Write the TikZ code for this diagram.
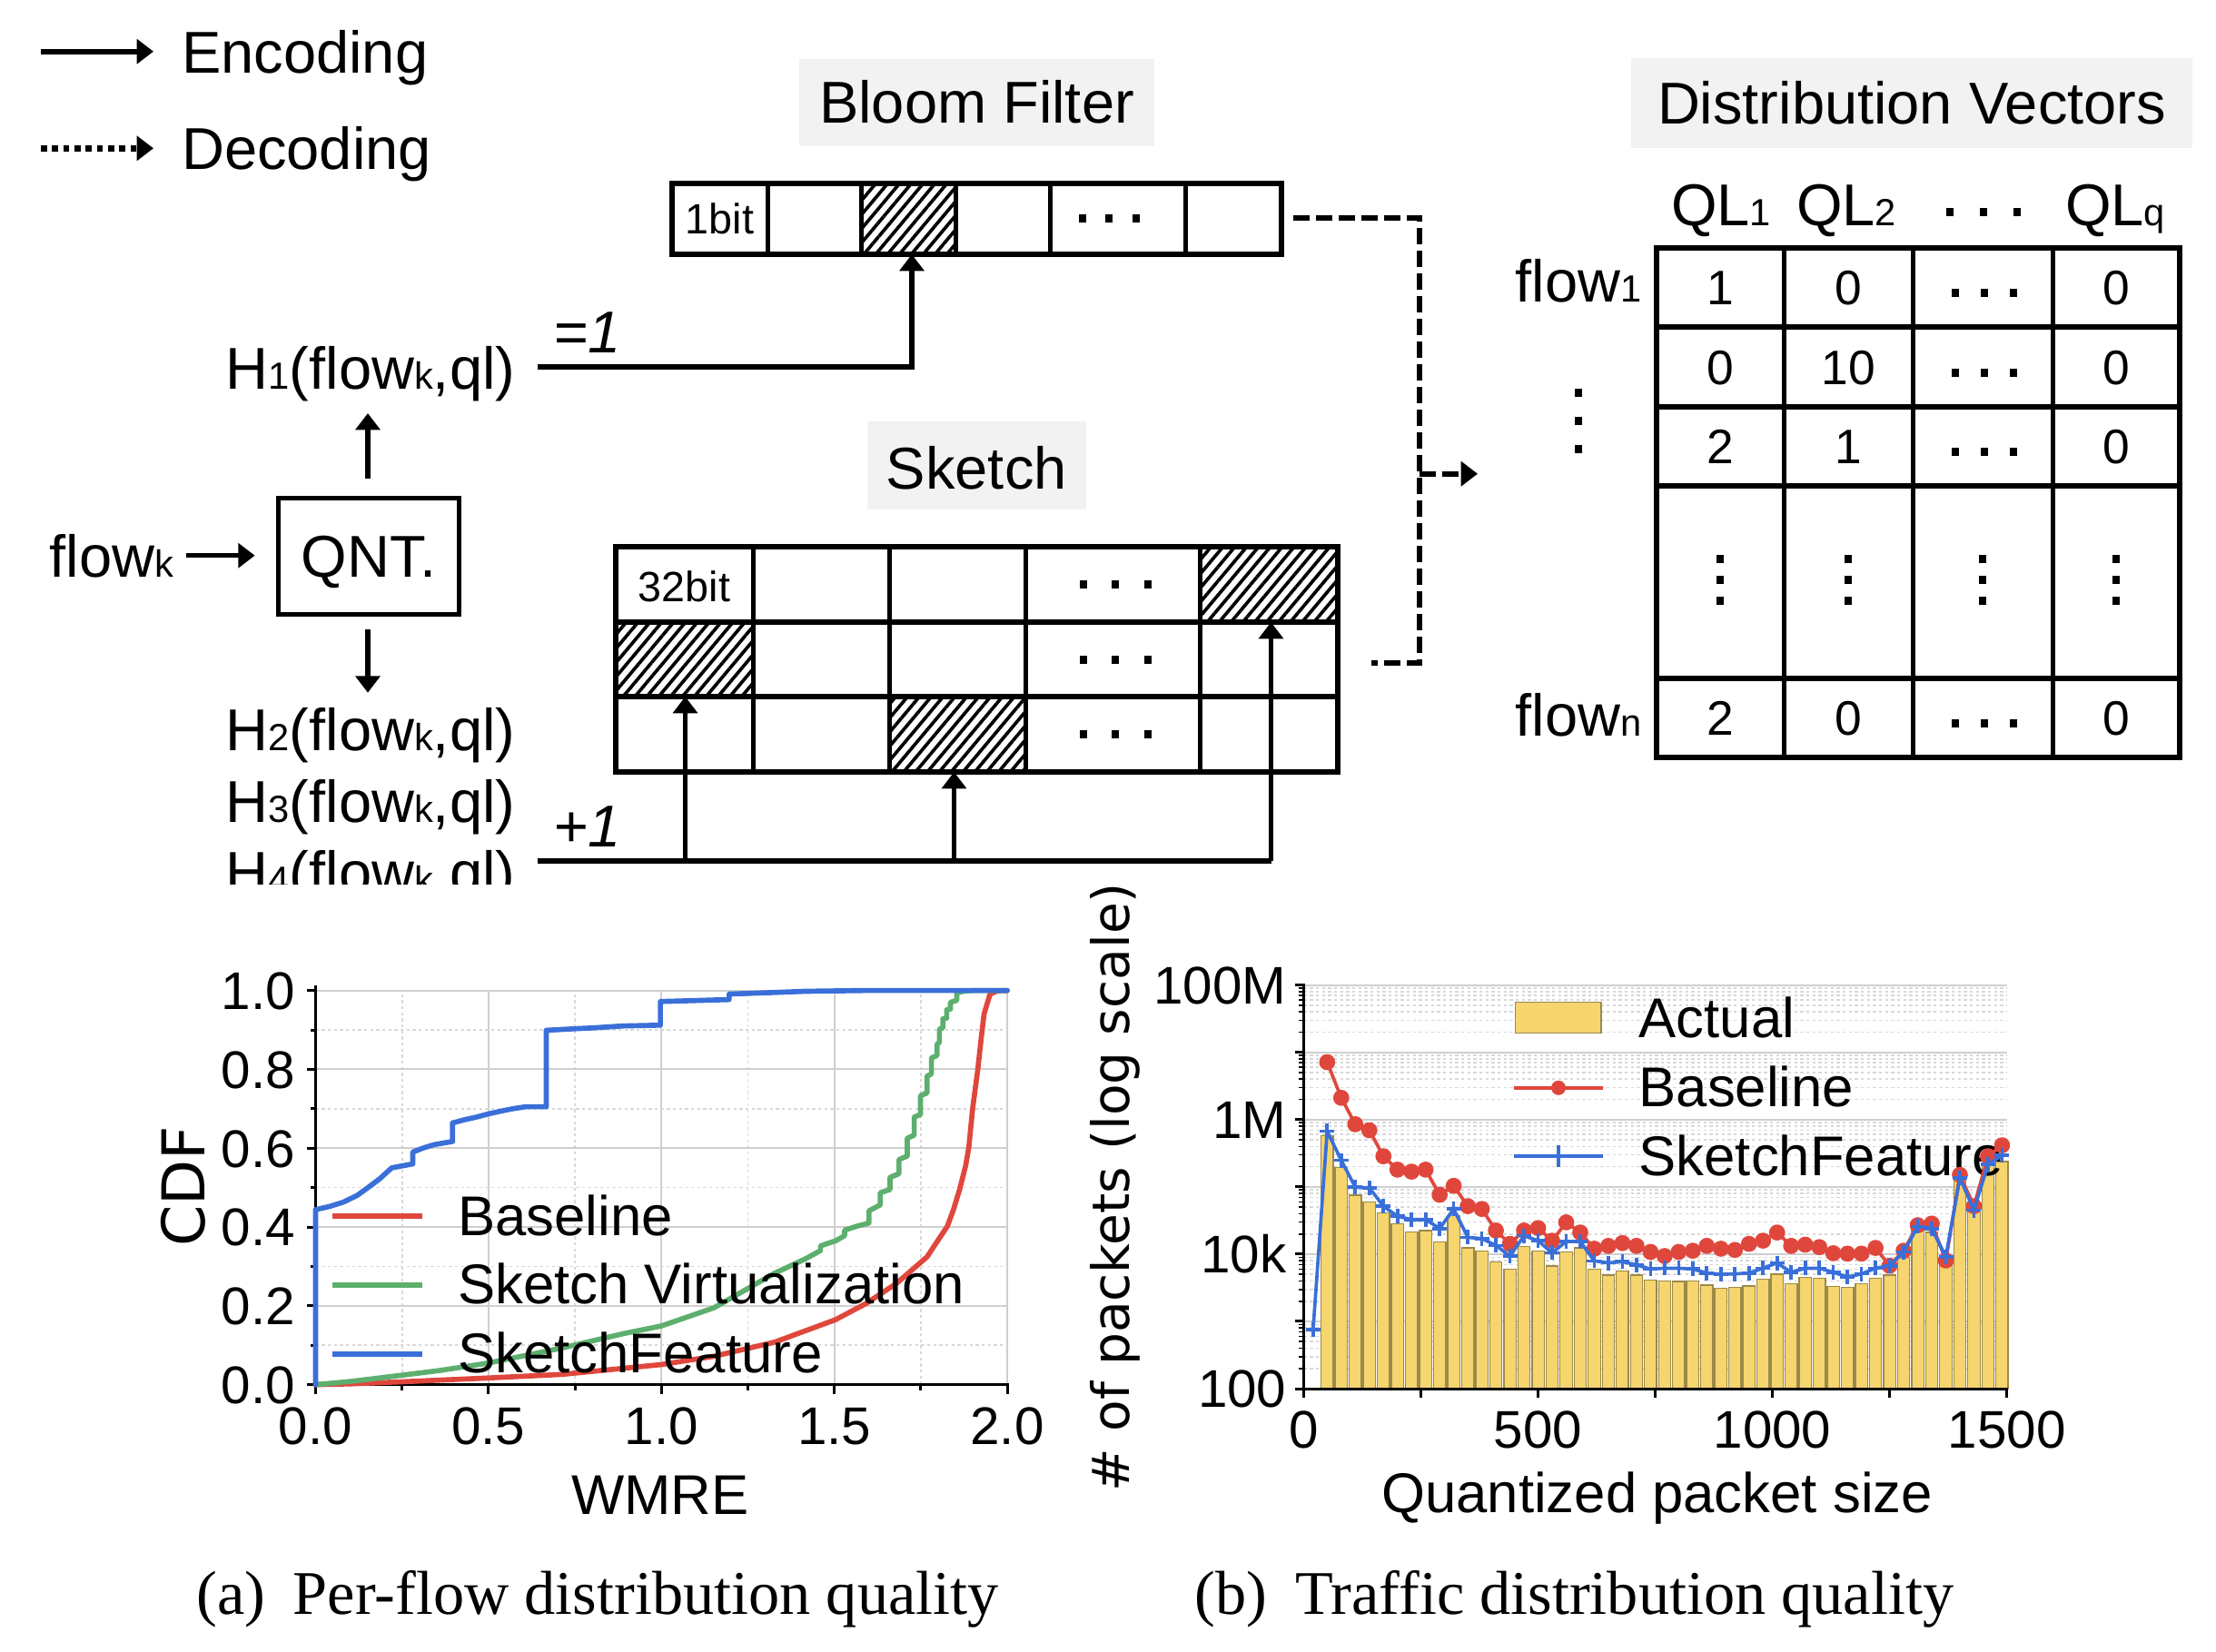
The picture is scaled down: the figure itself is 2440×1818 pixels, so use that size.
\documentclass[tikz,border=0pt]{standalone}
\usepackage{fontspec}
\setmainfont{Liberation Sans}
\newfontfamily\capfont{Liberation Serif}
\newfontfamily\labfont{DejaVu Sans}
\usetikzlibrary{arrows.meta,patterns.meta}
\definecolor{boxgray}{HTML}{F2F2F2}
\definecolor{cred}{HTML}{E0473C}
\definecolor{cblue}{HTML}{3A6FD9}
\definecolor{cgreen}{HTML}{5DAF6E}
\definecolor{cbar}{HTML}{F6D46E}
\definecolor{cbaredge}{HTML}{9C8A4A}
\definecolor{gridc}{HTML}{CFCFCF}
\definecolor{gridd}{HTML}{D8D8D8}
\newcommand\fbig{\fontsize{19.5pt}{23pt}\selectfont}
\newcommand\fsub{\fontsize{12.5pt}{14pt}\selectfont}
\newcommand\fcell{\fontsize{16pt}{19pt}\selectfont}
\newcommand\fsmall{\fontsize{14pt}{16pt}\selectfont}
\newcommand\fplot{\fontsize{17.5pt}{21pt}\selectfont}
\newcommand\fleg{\fontsize{18.5pt}{22pt}\selectfont}
\newcommand\fylab{\labfont\fontsize{17pt}{20pt}\selectfont}
\newcommand\fcdf{\labfont\fontsize{19.5pt}{22pt}\selectfont}
\newcommand\fcap{\capfont\fontsize{20.5pt}{24pt}\selectfont}
\newcommand\lsub[1]{{\fsub #1}}
\newcommand\sqdot[2]{\fill (#1-4,#2-4.5) rectangle (#1+4,#2+4.5);}
\newcommand\hdots[3]{\sqdot{#1-#3}{#2}\sqdot{#1}{#2}\sqdot{#1+#3}{#2}}
\newcommand\vdotsq[3]{\sqdot{#1}{#2-#3}\sqdot{#1}{#2}\sqdot{#1}{#2+#3}}
\tikzset{
  >={Triangle[length=5.5pt,width=8pt]},
  txt/.style={inner sep=0pt, anchor=base},
  txtw/.style={inner sep=0pt, anchor=base west},
  txte/.style={inner sep=0pt, anchor=base east},
  enc/.style={line width=1.6pt, ->},
  legenc/.style={line width=1.9pt, ->},
  declink/.style={line width=1.7pt, dash pattern=on 5.5pt off 2pt},
  legdot/.style={line width=2pt, dash pattern=on 2pt off 1.7pt, ->},
  cellthin/.style={line width=1.5pt},
  cellthick/.style={line width=1.8pt},
  hatch/.style={pattern={Lines[angle=50,distance=3pt,line width=1.1pt]}},
  labelbox/.style={fill=boxgray},
  gsolid/.style={draw=gridc, line width=0.6pt},
  gdot/.style={draw=gridd, line width=0.5pt, dash pattern=on 1pt off 1pt},
  axisl/.style={line width=0.9pt},
  bar/.style={fill=cbar, draw=cbaredge, line width=0.4pt},
  curve/.style={line width=1.7pt, line join=round, line cap=round},
  legline/.style={line width=1.8pt},
}
\begin{document}
\begin{tikzpicture}[x=0.3pt,y=-0.3pt]
\useasboundingbox (0,0) rectangle (2440,1818);

% ---------------- legend ----------------
\node[txtw,font=\fbig] (encl) at (199.6,80) {Encoding};
\node[txtw,font=\fbig] (decl) at (199.6,186.7) {Decoding};
\coordinate (e0) at (45,56.7); \coordinate (e1) at (169,56.7);
\coordinate (d0) at (45,163.3); \coordinate (d1) at (169,163.3);
\draw[legenc] (e0) -- (e1);
\draw[legdot] (d0) -- (d1);

% ---------------- Bloom filter ----------------
\fill[labelbox] (880,65) rectangle (1271,161);
\node[txt,font=\fbig] (bflab) at (1075.5,135) {Bloom Filter};
\fill[hatch] (948,201.7) rectangle (1052,280);
\foreach \xx in {845,948,1052,1156,1305} \draw[cellthin] (\xx,201.7) -- (\xx,280);
\draw[cellthick] (740,201.7) rectangle (1410.5,280);
\node[txt,font=\fsmall] (bit1) at (792.5,257.5) {1bit};
\hdots{1221}{240}{29.5}
\coordinate (bfhat) at (1004,280);
\coordinate (bfout) at (1424,240);

% ---------------- Distribution vectors ----------------
\fill[labelbox] (1796,64) rectangle (2414,162.7);
\node[txt,font=\fbig] (dvlab) at (2105,136.7) {Distribution Vectors};
\node[txt,font=\fbig] (ql1) at (1895,248) {QL\lsub{1}};
\node[txt,font=\fbig] (ql2) at (2033,248) {QL\lsub{2}};
\node[txt,font=\fbig] (qlq) at (2329,248) {QL\lsub{q}};
\hdots{2184}{233.5}{37}
\foreach \yy in {360,448.3,535,746.7} \draw[cellthick] (1823.7,\yy) -- (2400,\yy);
\foreach \xx in {1964,2106.6,2260} \draw[cellthin] (\xx,272.7) -- (\xx,834);
\draw[cellthick] (1823.7,272.7) rectangle (2400,834);
\node[txte,font=\fbig] (flow1) at (1808,332) {flow\lsub{1}};
\node[txte,font=\fbig] (flown) at (1808,810) {flow\lsub{n}};
\vdotsq{1738}{463}{31}
% row 1
\node[txt,font=\fcell] (v11) at (1894,335) {1};
\node[txt,font=\fcell] (v12) at (2035,335) {0};
\hdots{2185}{322}{32}
\node[txt,font=\fcell] (v14) at (2330,335) {0};
% row 2
\node[txt,font=\fcell] (v21) at (1894,423) {0};
\node[txt,font=\fcell] (v22) at (2035,423) {10};
\hdots{2185}{410}{32}
\node[txt,font=\fcell] (v24) at (2330,423) {0};
% row 3
\node[txt,font=\fcell] (v31) at (1894,510.5) {2};
\node[txt,font=\fcell] (v32) at (2035,510.5) {1};
\hdots{2185}{497.5}{32}
\node[txt,font=\fcell] (v34) at (2330,510.5) {0};
% row 4
\vdotsq{1894}{638}{23}
\vdotsq{2035}{638}{23}
\vdotsq{2183}{638}{23}
\vdotsq{2330}{638}{23}
% row 5
\node[txt,font=\fcell] (v51) at (1894,809) {2};
\node[txt,font=\fcell] (v52) at (2035,809) {0};
\hdots{2185}{796}{32}
\node[txt,font=\fcell] (v54) at (2330,809) {0};

% ---------------- Sketch ----------------
\fill[labelbox] (955,464) rectangle (1195.6,561);
\node[txt,font=\fbig] (sklab) at (1075.3,538) {Sketch};
\fill[hatch] (1321,602) rectangle (1473,685);
\fill[hatch] (678,685) rectangle (829,767);
\fill[hatch] (979,767) rectangle (1129,850);
\foreach \xx in {829,979,1129,1321} \draw[cellthin] (\xx,602) -- (\xx,850);
\foreach \yy in {685,767} \draw[cellthick] (678,\yy) -- (1473,\yy);
\draw[cellthick] (678,602) rectangle (1473,850);
\node[txt,font=\fsmall] (bit32) at (753.5,662.7) {32bit};
\hdots{1228}{643.5}{35.5}
\hdots{1228}{726}{35.5}
\hdots{1228}{808.5}{35.5}
\coordinate (skr1) at (1399.5,685);
\coordinate (skr2) at (754.5,767);
\coordinate (skr3) at (1050.5,850);
\coordinate (skout) at (1509.6,730);

% ---------------- decoding connectors ----------------
\coordinate (dvin) at (1627,521.7);
\coordinate (jtop) at (1563,240);
\coordinate (jbot) at (1563,730);
\coordinate (jmid) at (1563,521.7);
\draw[declink] (bfout) -- (jtop) -- (jbot) -- (skout);
\draw[declink,->] (jmid) -- (dvin);

% ---------------- encoding side ----------------
\node[draw,line width=1.5pt,minimum width=59.7pt,minimum height=38.5pt,
      text height=14pt,text depth=0pt,inner sep=0pt,font=\fbig] (qnt) at (406,612.4) {QNT.};
\node[txtw,font=\fbig] (flowk) at (54,635) {flow\lsub{k}};
\coordinate (fa0) at (205,611.7); \coordinate (fa1) at (280.6,611.7);
\draw[enc] (fa0) -- (fa1);
\coordinate (ua0) at (405,526.7); \coordinate (ua1) at (405,455);
\draw[enc] (ua0) -- (ua1);
\coordinate (da0) at (405,693); \coordinate (da1) at (405,762.7);
\draw[enc] (da0) -- (da1);

\node[txt,font=\fbig] (h1) at (408,428) {H\lsub{1}(flow\lsub{k},ql)};
\node[txt,font=\fbig] (h2) at (408,826.7) {H\lsub{2}(flow\lsub{k},ql)};
\node[txt,font=\fbig] (h3) at (408,905) {H\lsub{3}(flow\lsub{k},ql)};
\begin{scope}
  \clip (0,0) rectangle (2440,973);
  \node[txt,font=\fbig] (h4) at (408,983) {H\lsub{4}(flow\lsub{k},ql)};
\end{scope}

\node[txtw,font=\fbig\itshape] (eq1) at (609,388) {=1};
\node[txtw,font=\fbig\itshape] (pl1) at (609,932) {+1};

\coordinate (l1a) at (592,404); \coordinate (l1b) at (1004,404);
\draw[line width=1.7pt,->] (l1a) -- (l1b) -- (bfhat);
\coordinate (l2a) at (592,947.7); \coordinate (l2b) at (1399.5,947.7);
\coordinate (l2c) at (754.5,947.7); \coordinate (l2d) at (1050.5,947.7);
\draw[line width=1.7pt] (l2a) -- (l2b);
\draw[enc] (l2c) -- (skr2);
\draw[enc] (l2d) -- (skr3);
\draw[enc] (l2b) -- (skr1);

% ================= plot (a) =================
\begin{scope}[shift={(347.5,1524.6)},x=114.225pt,y=130.2pt]
  \foreach \v in {0.5,1,1.5,2} \draw[gsolid] (\v,0) -- (\v,1);
  \foreach \v in {0.25,0.75,1.25,1.75} \draw[gdot] (\v,0) -- (\v,1);
  \foreach \c in {0.2,0.4,0.6,0.8,1} \draw[gsolid] (0,\c) -- (2,\c);
  \foreach \c in {0.1,0.3,0.5,0.7,0.9} \draw[gdot] (0,\c) -- (2,\c);
  \draw[axisl] (0,1.013) -- (0,0) -- (2.005,0);
  \foreach \c in {0,0.2,0.4,0.6,0.8,1} \draw[axisl] (0,\c) -- ++(-3pt,0);
  \foreach \c in {0.1,0.3,0.5,0.7,0.9} \draw[axisl] (0,\c) -- ++(-1.8pt,0);
  \foreach \v in {0,0.5,1,1.5,2} \draw[axisl] (\v,0) -- ++(0,-3pt);
  \foreach \v in {0.25,0.75,1.25,1.75} \draw[axisl] (\v,0) -- ++(0,-1.8pt);
  \foreach \c/\t in {0/0.0,0.2/0.2,0.4/0.4,0.6/0.6,0.8/0.8,1/1.0}
    \node[txte,font=\fplot,xshift=-6.6pt,yshift=-6.27pt] at (0,\c) {\t};
  \foreach \v/\t in {0/0.0,0.5/0.5,1/1.0,1.5/1.5,2/2.0}
    \node[txt,font=\fplot,yshift=-19.9pt] at (\v,0) {\t};
  % curves
  \draw[curve,cred] (0,0) -- (0.1,0.002) -- (0.27,0.008) -- (0.5,0.017) -- (0.712,0.026) -- (1.0,0.051) -- (1.152,0.072) -- (1.328,0.108) -- (1.504,0.165) -- (1.592,0.206) -- (1.68,0.257) -- (1.768,0.324) -- (1.827,0.402) -- (1.845,0.445) -- (1.862,0.494) -- (1.880,0.556) -- (1.889,0.602) -- (1.9,0.7) -- (1.915,0.80) -- (1.925,0.88) -- (1.933,0.94) -- (1.95,0.99) -- (1.97,0.999) -- (2.0,1.0);
  \draw[curve,cgreen] (0,0) -- (0.1,0.008) -- (0.185,0.017) -- (0.36,0.036) -- (0.5,0.055) -- (0.712,0.093) -- (0.888,0.129) -- (1.0,0.149) -- (1.152,0.195) -- (1.328,0.283) -- (1.416,0.319) -- (1.46,0.34) -- (1.46,0.352) -- (1.504,0.365) -- (1.53,0.378) -- (1.53,0.392) -- (1.565,0.402) -- (1.6,0.41) -- (1.6,0.441) -- (1.633,0.456) -- (1.633,0.487) -- (1.661,0.495) -- (1.661,0.526) -- (1.687,0.535) -- (1.687,0.571) -- (1.711,0.58) -- (1.711,0.625) -- (1.731,0.633) -- (1.731,0.679) -- (1.749,0.685) -- (1.749,0.733) -- (1.768,0.74) -- (1.768,0.783) -- (1.781,0.788) -- (1.781,0.829) -- (1.797,0.835) -- (1.797,0.864) -- (1.804,0.868) -- (1.804,0.902) -- (1.814,0.905) -- (1.814,0.928) -- (1.825,0.93) -- (1.825,0.951) -- (1.836,0.953) -- (1.836,0.970) -- (1.854,0.975) -- (1.854,0.994) -- (1.88,0.999) -- (1.908,1.0) -- (2.0,1.0);
  \draw[curve,cblue] (0,0) -- (0,0.444) -- (0.04,0.452) -- (0.08,0.463) -- (0.12,0.48) -- (0.15,0.499) -- (0.185,0.522) -- (0.22,0.55) -- (0.25,0.555) -- (0.281,0.56) -- (0.281,0.59) -- (0.31,0.6) -- (0.343,0.609) -- (0.396,0.617) -- (0.396,0.664) -- (0.43,0.672) -- (0.466,0.679) -- (0.5,0.687) -- (0.536,0.694) -- (0.57,0.70) -- (0.607,0.705) -- (0.667,0.705) -- (0.667,0.899) -- (0.75,0.903) -- (0.8,0.905) -- (0.888,0.91) -- (0.997,0.912) -- (0.997,0.972) -- (1.196,0.977) -- (1.196,0.991) -- (1.328,0.995) -- (1.416,0.998) -- (1.59,1.0) -- (2.0,1.0);
\end{scope}
% legend (a)
\coordinate (la1) at (365.6,1339); \coordinate (la1e) at (464.7,1339);
\coordinate (la2) at (365.6,1415); \coordinate (la2e) at (464.7,1415);
\coordinate (la3) at (365.6,1491); \coordinate (la3e) at (464.7,1491);
\draw[legline,cred] (la1) -- (la1e);
\draw[legline,cgreen] (la2) -- (la2e);
\draw[legline,cblue] (la3) -- (la3e);
\node[txtw,font=\fleg] (lat1) at (503.6,1360.7) {Baseline};
\node[txtw,font=\fleg] (lat2) at (503.6,1435.3) {Sketch Virtualization};
\node[txtw,font=\fleg] (lat3) at (503.6,1511) {SketchFeature};
\node[rotate=90,inner sep=0pt,font=\fcdf] (cdf) at (202,1306) {CDF};
\node[txt,font=\fleg] (wmre) at (727,1667) {WMRE};

% ================= plot (b) =================
\begin{scope}[shift={(1435.5,1677.08)},x=0.154821pt,y=22.212pt]
  \foreach \d in {2,...,7} \foreach \k in {2,...,9} \draw[gdot] (0,{\d+log10(\k)}) -- (1500,{\d+log10(\k)});
  \foreach \d in {3,...,8} \draw[gsolid] (0,\d) -- (1500,\d);
  \foreach \h [count=\i from 0] in {5.758,5.287,4.877,4.774,4.612,4.455,4.334,4.352,4.183,4.575,4.093,4.051,3.888,3.779,4.111,4.051,3.822,4.033,4.093,3.779,3.689,3.749,3.689,3.616,3.604,3.592,3.598,3.538,3.496,3.502,3.526,3.628,3.701,3.562,3.653,3.641,3.520,3.508,3.556,3.641,3.689,3.948,4.352,4.322,3.912,5.106,4.624,5.317,5.378}
    \filldraw[bar] ({50+30*\i-13},2) rectangle ({50+30*\i+13},\h);
  \draw[axisl] (0,8.02) -- (0,2) -- (1502,2);
  \foreach \d in {2,...,8} \draw[axisl] (0,\d) -- ++(-3pt,0);
  \foreach \d in {2,...,7} \foreach \k in {2,...,9} \draw[line width=0.5pt] (0,{\d+log10(\k)}) -- ++(-1.6pt,0);
  \foreach \v in {0,250,...,1500} \draw[axisl] (\v,2) -- ++(0,-3pt);
  \foreach \d/\t in {2/100,4/10k,6/1M,8/100M}
    \node[txte,font=\fplot,xshift=-5.55pt,yshift=-6.27pt] at (0,\d) {\t};
  \foreach \v in {0,500,1000,1500}
    \node[txt,font=\fplot,yshift=-19.5pt] at (\v,2) {\v};
\end{scope}
% legend (b)
\filldraw[bar] (1668.3,1103.6) rectangle (1763,1137.5);
\coordinate (lb2) at (1666.6,1197.8); \coordinate (lb2e) at (1765,1197.8);
\coordinate (lb3) at (1666.6,1273); \coordinate (lb3e) at (1765,1273);
\draw[line width=1.2pt,cred] (lb2) -- (lb2e);
\fill[cred] (1716,1197.8) circle[radius=8];
\draw[line width=1.2pt,cblue] (lb3) -- (lb3e);
\draw[line width=1.2pt,cblue] (1716,1261) -- (1716,1285);
\node[txtw,font=\fleg] (lbt1) at (1804,1142) {Actual};
\node[txtw,font=\fleg] (lbt2) at (1804,1218.75) {Baseline};
\node[txtw,font=\fleg] (lbt3) at (1804,1294.6) {SketchFeature};
\begin{scope}[shift={(1435.5,1677.08)},x=0.154821pt,y=22.212pt]
  \draw[line width=1.1pt,cred,line join=round,mark=*,mark size=2.1pt,mark options={solid,fill=cred,draw=cred}] plot coordinates {(50,6.855) (80,6.325) (110,5.932) (140,5.842) (170,5.456) (200,5.257) (230,5.227) (260,5.257) (290,4.883) (320,5.016) (350,4.714) (380,4.672) (410,4.352) (440,4.153) (470,4.352) (500,4.388) (530,4.201) (560,4.473) (590,4.322) (620,4.081) (650,4.123) (680,4.165) (710,4.123) (740,4.033) (770,3.972) (800,4.033) (830,4.051) (860,4.123) (890,4.081) (920,4.063) (950,4.153) (980,4.201) (1010,4.322) (1040,4.123) (1070,4.141) (1100,4.105) (1130,4.014) (1160,4.008) (1190,4.008) (1220,4.093) (1250,3.828) (1280,4.051) (1310,4.431) (1340,4.455) (1370,3.906) (1400,5.179) (1430,4.714) (1460,5.456) (1490,5.619)};
  \draw[line width=1.1pt,cblue,line join=round,mark=+,mark size=2.4pt,mark options={solid,line width=1.1pt}] plot coordinates {(20,2.875) (50,5.830) (80,5.396) (110,4.998) (140,4.986) (170,4.714) (200,4.563) (230,4.515) (260,4.515) (290,4.382) (320,4.672) (350,4.250) (380,4.232) (410,4.129) (440,3.972) (470,4.274) (500,4.201) (530,4.020) (560,4.189) (590,4.189) (620,3.900) (650,3.870) (680,3.888) (710,3.840) (740,3.779) (770,3.791) (800,3.791) (830,3.779) (860,3.719) (890,3.701) (920,3.707) (950,3.719) (980,3.791) (1010,3.870) (1040,3.731) (1070,3.791) (1100,3.791) (1130,3.731) (1160,3.659) (1190,3.707) (1220,3.791) (1250,3.828) (1280,4.033) (1310,4.413) (1340,4.382) (1370,3.960) (1400,5.136) (1430,4.654) (1460,5.335) (1490,5.468)};
\end{scope}
\node[rotate=90,inner sep=0pt,font=\fylab] (ylab) at (1228,1307) {\# of packets (log scale)};
\node[txt,font=\fleg] (qps) at (1824.6,1665) {Quantized packet size};

% ================= captions =================
\node[txt,font=\fcap] (capa) at (658,1777) {(a)\hspace{0.45em}Per-flow distribution quality};
\node[txt,font=\fcap] (capb) at (1733.6,1777) {(b)\hspace{0.45em}Traffic distribution quality};
\end{tikzpicture}
\end{document}
